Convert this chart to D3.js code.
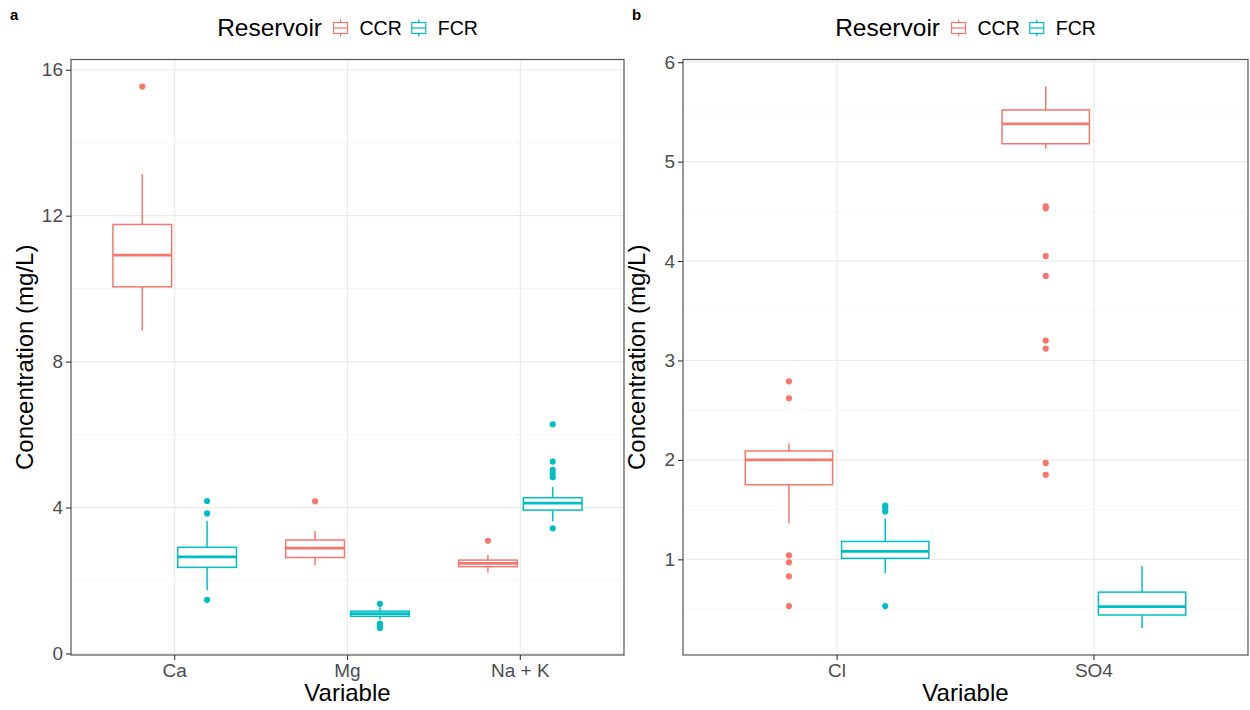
<!DOCTYPE html>
<html>
<head>
<meta charset="utf-8">
<script src="https://cdn.jsdelivr.net/npm/d3@7"></script>
<style>
  body { margin: 0; background: #fff; }
  svg { font-family: "Liberation Sans", Arial, sans-serif; }
</style>
</head>
<body>
<svg width="1250" height="710"></svg>
<script>
// ---- data ----
var reservoirs = ["CCR", "FCR"];
var colors = ["#F8766D", "#00BFC4"];

// panel a
var varsA = ["Ca", "Mg", "Na + K"];
// [lower whisker, Q1, median, Q3, upper whisker]
var ccrStatsA = [[8.85, 10.05, 10.92, 11.76, 13.14],
                 [2.42, 2.63, 2.89, 3.11, 3.36],
                 [2.22, 2.38, 2.47, 2.56, 2.70]];
var fcrStatsA = [[1.73, 2.36, 2.65, 2.91, 3.64],
                 [0.93, 1.02, 1.09, 1.16, 1.27],
                 [3.62, 3.93, 4.12, 4.27, 4.56]];
var ccrOutA = [[15.54], [4.17], [3.09]];
var fcrOutA = [[4.18, 3.84, 1.47],
               [1.36, 0.82, 0.78, 0.74, 0.70],
               [6.28, 5.26, 5.03, 4.93, 4.83, 3.43]];
var yTicksA = [0, 4, 8, 12, 16];
var yMinorA = [2, 6, 10, 14];

// panel b
var varsB = ["Cl", "SO4"];
var ccrStatsB = [[1.36, 1.75, 2.00, 2.09, 2.165],
                 [5.13, 5.18, 5.38, 5.52, 5.755]];
var fcrStatsB = [[0.86, 1.01, 1.08, 1.18, 1.41],
                 [0.31, 0.44, 0.525, 0.67, 0.93]];
var ccrOutB = [[2.79, 2.62, 1.04, 0.97, 0.83, 0.53],
               [4.55, 4.53, 4.05, 3.85, 3.20, 3.12, 1.97, 1.85]];
var fcrOutB = [[1.54, 1.52, 1.48, 0.53], []];
var yTicksB = [1, 2, 3, 4, 5, 6];
var yMinorB = [0.5, 1.5, 2.5, 3.5, 4.5, 5.5];

var svg = d3.select("svg");

function panel(opt) {
  var g = svg.append("g");
  var L = opt.left, R = opt.right, T = 59.5, B = 655;

  // ggplot-like 5% expansion on y
  var all = [];
  [opt.ccr, opt.fcr].forEach(function(s) { s.forEach(function(d) { all = all.concat(d); }); });
  [opt.ccrOut, opt.fcrOut].forEach(function(s) { s.forEach(function(d) { all = all.concat(d); }); });
  var lo = d3.min(all), hi = d3.max(all), pad = (hi - lo) * 0.05;

  var y = d3.scaleLinear().domain([lo - pad, hi + pad]).range([B, T]);
  var x = d3.scaleBand().domain(opt.vars).range([L, R]).paddingInner(0).paddingOuter(0.1);
  var step = x.bandwidth();

  // grid
  g.selectAll(".minor").data(opt.minor).enter().append("line")
    .attr("x1", L).attr("x2", R)
    .attr("y1", function(d) { return y(d); }).attr("y2", function(d) { return y(d); })
    .attr("stroke", "#F2F2F2").attr("stroke-width", 0.7);
  g.selectAll(".major").data(opt.ticks).enter().append("line")
    .attr("x1", L).attr("x2", R)
    .attr("y1", function(d) { return y(d); }).attr("y2", function(d) { return y(d); })
    .attr("stroke", "#EBEBEB").attr("stroke-width", 1.2);
  g.selectAll(".vgrid").data(opt.vars).enter().append("line")
    .attr("x1", function(d) { return x(d) + step / 2; })
    .attr("x2", function(d) { return x(d) + step / 2; })
    .attr("y1", T).attr("y2", B)
    .attr("stroke", "#EBEBEB").attr("stroke-width", 1.2);

  // boxes
  var offs = [-0.1875, 0.1875], bw = 0.34 * step;
  [opt.ccr, opt.fcr].forEach(function(stats, k) {
    var outs = k === 0 ? opt.ccrOut : opt.fcrOut;
    stats.forEach(function(s, i) {
      var cx = x(opt.vars[i]) + step / 2 + offs[k] * step;
      var bg = g.append("g").attr("stroke", colors[k]).attr("fill", "none");
      bg.append("line").attr("x1", cx).attr("x2", cx)
        .attr("y1", y(s[3])).attr("y2", y(s[4])).attr("stroke-width", 1.5);
      bg.append("line").attr("x1", cx).attr("x2", cx)
        .attr("y1", y(s[1])).attr("y2", y(s[0])).attr("stroke-width", 1.5);
      bg.append("rect").attr("x", cx - bw / 2).attr("width", bw)
        .attr("y", y(s[3])).attr("height", y(s[1]) - y(s[3]))
        .attr("fill", "#fff").attr("stroke-width", 1.5);
      bg.append("line").attr("x1", cx - bw / 2).attr("x2", cx + bw / 2)
        .attr("y1", y(s[2])).attr("y2", y(s[2])).attr("stroke-width", 2.8);
      g.selectAll(null).data(outs[i]).enter().append("circle")
        .attr("cx", cx).attr("cy", function(d) { return y(d); })
        .attr("r", 3.1).attr("fill", colors[k]);
    });
  });

  // border
  g.append("rect").attr("x", L).attr("y", T).attr("width", R - L).attr("height", B - T)
    .attr("fill", "none").attr("stroke", "#555").attr("stroke-width", 1.2);

  // axes
  var ya = g.append("g").attr("transform", "translate(" + L + ",0)")
    .call(d3.axisLeft(y).tickValues(opt.ticks).tickSize(5).tickPadding(3).tickFormat(d3.format("d")));
  var xa = g.append("g").attr("transform", "translate(0," + B + ")")
    .call(d3.axisBottom(x).tickSize(5).tickPadding(4));
  [ya, xa].forEach(function(a) {
    a.select(".domain").remove();
    a.selectAll(".tick line").attr("stroke", "#333").attr("stroke-width", 1.1);
    a.selectAll(".tick text").attr("fill", "#4D4D4D")
      .style("font-size", "19px").style("font-family", "Liberation Sans, Arial, sans-serif");
  });

  // titles
  g.append("text").attr("x", (L + R) / 2).attr("y", 701)
    .attr("text-anchor", "middle").style("font-size", "24px").attr("fill", "#000")
    .text("Variable");
  g.append("text")
    .attr("transform", "translate(" + (L - 38.5) + "," + ((T + B) / 2) + ") rotate(-90)")
    .attr("text-anchor", "middle").style("font-size", "24px").attr("fill", "#000")
    .text("Concentration (mg/L)");

  // tag
  g.append("text").attr("x", opt.tagX).attr("y", 20)
    .style("font-size", "15px").style("font-weight", "bold").text(opt.tag);

  // legend
  var lg = g.append("g");
  var title = lg.append("text").attr("y", 36).style("font-size", "24.5px").text("Reservoir");
  var cur = title.node().getComputedTextLength() + 10;
  reservoirs.forEach(function(r, k) {
    var kg = lg.append("g").attr("transform", "translate(" + cur + ",28)")
      .attr("stroke", colors[k]).attr("fill", "none").attr("stroke-width", 1.2);
    kg.append("line").attr("x1", 8.5).attr("x2", 8.5).attr("y1", -8.5).attr("y2", 8.5);
    kg.append("rect").attr("x", 1.5).attr("width", 14).attr("y", -5.5).attr("height", 11).attr("fill", "#fff");
    kg.append("line").attr("x1", 1.5).attr("x2", 15.5).attr("y1", 0).attr("y2", 0);
    cur += 17 + 10.5;
    var t = lg.append("text").attr("x", cur).attr("y", 35).style("font-size", "19.5px").text(r);
    cur += t.node().getComputedTextLength() + 8.5;
  });
  cur -= 8.5;
  lg.attr("transform", "translate(" + ((L + R) / 2 - cur / 2) + ",0)");
}

panel({ left: 71, right: 624, vars: varsA, ccr: ccrStatsA, fcr: fcrStatsA,
        ccrOut: ccrOutA, fcrOut: fcrOutA, ticks: yTicksA, minor: yMinorA, tag: "a", tagX: 10 });
panel({ left: 683, right: 1248, vars: varsB, ccr: ccrStatsB, fcr: fcrStatsB,
        ccrOut: ccrOutB, fcrOut: fcrOutB, ticks: yTicksB, minor: yMinorB, tag: "b", tagX: 632 });
</script>
</body>
</html>
